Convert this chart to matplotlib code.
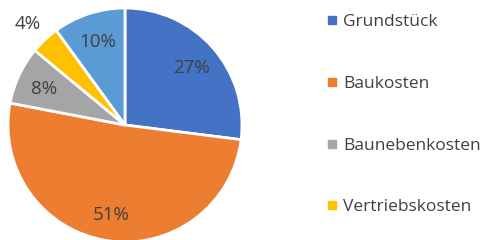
import matplotlib.pyplot as plt
from matplotlib.lines import Line2D
import numpy as np

# Kostenverteilung
labels = ["Grundstück", "Baukosten", "Baunebenkosten", "Vertriebskosten", "Sonstiges"]
values = [27, 51, 8, 4, 10]
colors = ["#4472C4", "#ED7D31", "#A5A5A5", "#FFC000", "#5B9BD5"]
legend_shown = 4  # fifth entry is cut off in the original

TEXT = "#404040"
plt.rcParams['font.family'] = ['Open Sans', 'DejaVu Sans']

fig = plt.figure(figsize=(4.85, 2.4), dpi=100)
ax = fig.add_axes([0, 0, 1, 1])

R = 117
cx, cy = 125, 240 - 125
wedges, _ = ax.pie(values, colors=colors, startangle=90, counterclock=False,
                   radius=R, center=(cx, cy),
                   wedgeprops=dict(edgecolor='white', linewidth=2))
ax.set_xlim(0, 485)
ax.set_ylim(0, 240)
ax.set_aspect('equal')
ax.axis('off')

# percent labels
for w, v in zip(wedges, values):
    mid = np.deg2rad((w.theta1 + w.theta2) / 2)
    f = 1.21 if v < 5 else 0.76
    ax.text(cx + f * R * np.cos(mid), cy + f * R * np.sin(mid) - 2, f"{v}%",
            ha='center', va='center', fontsize=13.5, color=TEXT)

handles = [Line2D([], [], marker='s', linestyle='none', markersize=5.5,
                  markerfacecolor=c, markeredgecolor=c) for c in colors[:legend_shown]]
ax.legend(handles, labels[:legend_shown], loc='upper left',
          bbox_to_anchor=(318 / 485, 1 - 5.5 / 240), frameon=False,
          fontsize=12.5, labelcolor=TEXT, labelspacing=2.62,
          handlelength=0.6, handletextpad=0.35, borderpad=0)

fig.savefig("out.png", dpi=100)
